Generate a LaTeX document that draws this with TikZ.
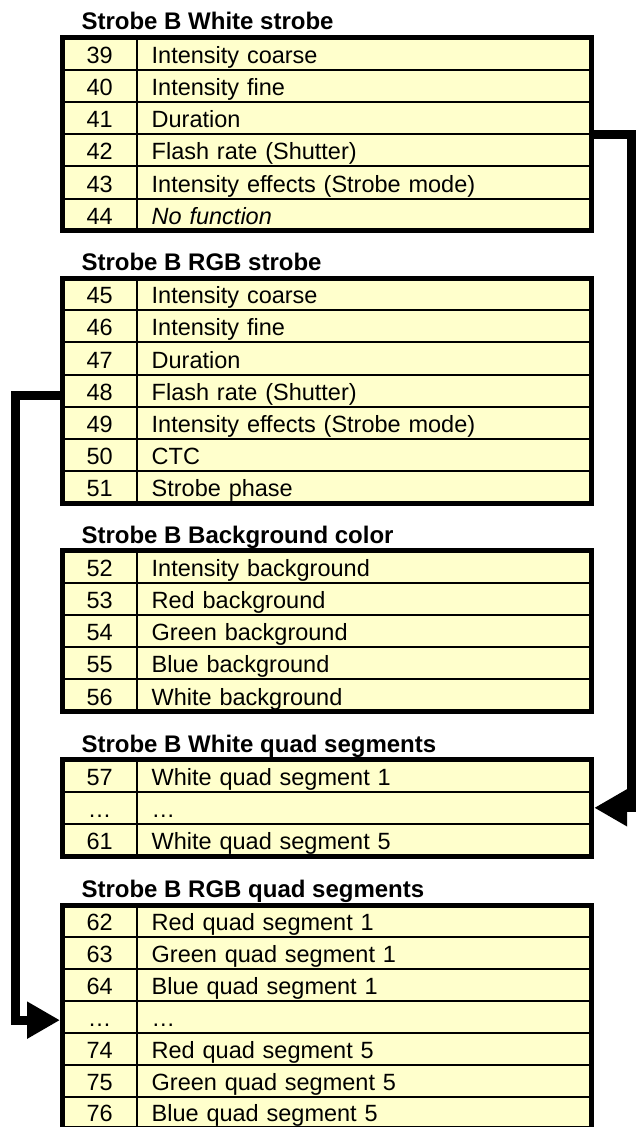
\documentclass[tikz,border=0pt]{standalone}
\usepackage{fontspec}
\setmainfont{Liberation Sans}
\usetikzlibrary{positioning,arrows.meta}
\definecolor{cellyellow}{HTML}{FFFFCC}

\begin{document}
\begin{tikzpicture}[
        x=1pt, y=-1pt,
        font=\fontsize{23.5}{28}\selectfont,
        cell/.style={draw, line width=2pt, fill=cellyellow, outer sep=0pt, inner xsep=0pt, inner ysep=0pt, text height=25.7pt, text depth=6.5pt}, % Cell styling
        numcell/.style={cell, minimum width=74.2pt, align=center},
        funcell/.style={cell, text width=425pt, inner xsep=15pt, align=left},
        title/.style={anchor=base west, font=\fontsize{24}{28}\selectfont\bfseries},
        frame/.style={draw, line width=5pt}, % Thick table border
        link/.style={line width=9pt, -{Triangle[length=33pt, width=35pt]}} % Arrow styling
        ]
        \useasboundingbox (0,0) rectangle (635,1127);

        % Strobe B White strobe
        \node[title] (whiteT) at (78,29.5) {Strobe B White strobe};
        \foreach \num/\txt [count=\r] in {39/Intensity coarse, 40/Intensity fine, 41/Duration, 42/Flash rate (Shutter), 43/Intensity effects (Strobe mode), 44/{\textit{No function}}} {
            \node[numcell] (white-n\r) at (99.6,{37.5+\r*32.2-16.1}) {\num};
            \node[funcell, right=0pt of white-n\r] (white-f\r) {\txt};
        }
        \draw[frame] (white-n1.north west) rectangle (white-f6.south east);

        % Strobe B RGB strobe
        \node[title] (rgbT) at (78,270) {Strobe B RGB strobe};
        \foreach \num/\txt [count=\r] in {45/Intensity coarse, 46/Intensity fine, 47/Duration, 48/Flash rate (Shutter), 49/Intensity effects (Strobe mode), 50/CTC, 51/Strobe phase} {
            \node[numcell] (rgb-n\r) at (99.6,{278+\r*32.2-16.1}) {\num};
            \node[funcell, right=0pt of rgb-n\r] (rgb-f\r) {\txt};
        }
        \draw[frame] (rgb-n1.north west) rectangle (rgb-f7.south east);

        % Strobe B Background color
        \node[title] (bgT) at (78,543) {Strobe B Background color};
        \foreach \num/\txt [count=\r] in {52/Intensity background, 53/Red background, 54/Green background, 55/Blue background, 56/White background} {
            \node[numcell] (bg-n\r) at (99.6,{550.5+\r*32.2-16.1}) {\num};
            \node[funcell, right=0pt of bg-n\r] (bg-f\r) {\txt};
        }
        \draw[frame] (bg-n1.north west) rectangle (bg-f5.south east);

        % Strobe B White quad segments
        \node[title] (wquadT) at (78,752) {Strobe B White quad segments};
        \foreach \num/\txt [count=\r] in {57/White quad segment 1, …/…, 61/White quad segment 5} {
            \node[numcell] (wquad-n\r) at (99.6,{759.5+\r*32.2-16.1}) {\num};
            \node[funcell, right=0pt of wquad-n\r] (wquad-f\r) {\txt};
        }
        \draw[frame] (wquad-n1.north west) rectangle (wquad-f3.south east);

        % Strobe B RGB quad segments (slightly tighter rows)
        \node[title] (rgbquadT) at (78,897) {Strobe B RGB quad segments};
        \begin{scope}[cell/.append style={text height=25pt, text depth=6.9pt}]
        \foreach \num/\txt [count=\r] in {62/Red quad segment 1, 63/Green quad segment 1, 64/Blue quad segment 1, …/…, 74/Red quad segment 5, 75/Green quad segment 5, 76/Blue quad segment 5} {
            \node[numcell] (rgbquad-n\r) at (99.6,{905.5+\r*31.9-15.95}) {\num};
            \node[funcell, right=0pt of rgbquad-n\r] (rgbquad-f\r) {\txt};
        }
        \end{scope}
        \draw[frame] (rgbquad-n1.north west) rectangle (rgbquad-f7.south east);

        % Draw arrows
        \draw[link] (white-f3.south east) -- ++(40,0) |- ([xshift=2.5pt]wquad-f2.east);
        \draw[link] ([yshift=-5pt]rgb-n4.west) -- ++(-47,0) |- ([xshift=-2.5pt,yshift=-3pt]rgbquad-n4.west);

    \end{tikzpicture}
\end{document}
